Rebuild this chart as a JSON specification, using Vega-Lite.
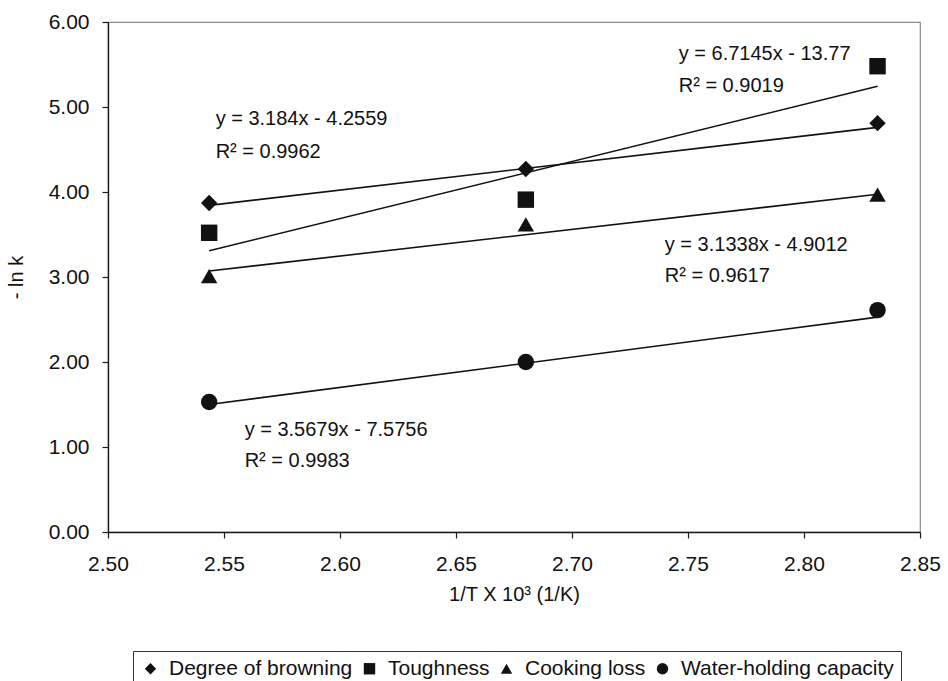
{
  "$schema": "https://vega.github.io/schema/vega-lite/v6.json",
  "width": 812,
  "height": 510,
  "autosize": {"type": "none"},
  "padding": {"left": 108, "top": 22, "right": 28, "bottom": 149},
  "background": "#ffffff",
  "config": {
    "font": "Liberation Sans",
    "view": {"stroke": "#8a8a8a", "strokeWidth": 1.2},
    "axis": {
      "grid": false,
      "domainColor": "#1a1a1a",
      "domainWidth": 1.4,
      "tickColor": "#1a1a1a",
      "tickSize": 6,
      "tickWidth": 1.2,
      "labelColor": "#111111",
      "titleColor": "#111111",
      "labelFontSize": 21,
      "titleFontSize": 20,
      "titleFontWeight": "normal",
      "labelFlush": false,
      "labelOverlap": false
    }
  },
  "datasets": {
    "points": [
      {"series": "Degree of browning", "invT": 2.5436, "negLnK": 3.87},
      {"series": "Degree of browning", "invT": 2.6801, "negLnK": 4.27},
      {"series": "Degree of browning", "invT": 2.8317, "negLnK": 4.81},
      {"series": "Toughness", "invT": 2.5436, "negLnK": 3.52},
      {"series": "Toughness", "invT": 2.6801, "negLnK": 3.91},
      {"series": "Toughness", "invT": 2.8317, "negLnK": 5.48},
      {"series": "Cooking loss", "invT": 2.5436, "negLnK": 3.01},
      {"series": "Cooking loss", "invT": 2.6801, "negLnK": 3.62},
      {"series": "Cooking loss", "invT": 2.8317, "negLnK": 3.97},
      {"series": "Water-holding capacity", "invT": 2.5436, "negLnK": 1.53},
      {"series": "Water-holding capacity", "invT": 2.6801, "negLnK": 2.0},
      {"series": "Water-holding capacity", "invT": 2.8317, "negLnK": 2.61}
    ],
    "fits": [
      {"series": "Degree of browning", "invT": 2.5436, "negLnK": 3.8429},
      {"series": "Degree of browning", "invT": 2.8317, "negLnK": 4.7602},
      {"series": "Toughness", "invT": 2.5436, "negLnK": 3.309},
      {"series": "Toughness", "invT": 2.8317, "negLnK": 5.2435},
      {"series": "Cooking loss", "invT": 2.5436, "negLnK": 3.0699},
      {"series": "Cooking loss", "invT": 2.8317, "negLnK": 3.9728},
      {"series": "Water-holding capacity", "invT": 2.5436, "negLnK": 1.4997},
      {"series": "Water-holding capacity", "invT": 2.8317, "negLnK": 2.5276}
    ],
    "equations": [
      {"text": "y = 3.184x - 4.2559", "invT": 2.5464, "negLnK": 4.86},
      {"text": "R² = 0.9962", "invT": 2.5464, "negLnK": 4.47},
      {"text": "y = 6.7145x - 13.77", "invT": 2.746, "negLnK": 5.62},
      {"text": "R² = 0.9019", "invT": 2.746, "negLnK": 5.25},
      {"text": "y = 3.1338x - 4.9012", "invT": 2.74, "negLnK": 3.38},
      {"text": "R² = 0.9617", "invT": 2.74, "negLnK": 3.01},
      {"text": "y = 3.5679x - 7.5756", "invT": 2.5589, "negLnK": 1.2},
      {"text": "R² = 0.9983", "invT": 2.5589, "negLnK": 0.83}
    ]
  },
  "encoding": {
    "x": {
      "field": "invT",
      "type": "quantitative",
      "scale": {"domain": [2.5, 2.85], "nice": false, "zero": false},
      "axis": {
        "title": "1/T X 10³ (1/K)",
        "values": [2.5, 2.55, 2.6, 2.65, 2.7, 2.75, 2.8, 2.85],
        "format": ".2f",
        "labelPadding": 15,
        "titlePadding": 10
      }
    },
    "y": {
      "field": "negLnK",
      "type": "quantitative",
      "scale": {"domain": [0, 6], "nice": false},
      "axis": {
        "title": "- ln k",
        "values": [0, 1, 2, 3, 4, 5, 6],
        "format": ".2f",
        "labelPadding": 13,
        "titlePadding": 22
      }
    }
  },
  "layer": [
    {
      "data": {"name": "fits"},
      "mark": {"type": "line", "color": "#111111", "strokeWidth": 1.6},
      "encoding": {"detail": {"field": "series"}}
    },
    {
      "data": {"name": "points"},
      "mark": {"type": "point", "filled": true, "size": 270, "opacity": 1, "color": "#111111"},
      "encoding": {
        "shape": {
          "field": "series",
          "type": "nominal",
          "scale": {
            "domain": ["Degree of browning", "Toughness", "Cooking loss", "Water-holding capacity"],
            "range": ["diamond", "square", "triangle-up", "circle"]
          },
          "legend": {
            "title": null,
            "orient": "none",
            "legendX": 25,
            "legendY": 629,
            "direction": "horizontal",
            "columns": 4,
            "strokeColor": "#333333",
            "padding": 7,
            "symbolSize": 130,
            "symbolFillColor": "#111111",
            "symbolStrokeColor": "#111111",
            "labelFontSize": 21,
            "labelColor": "#111111",
            "labelLimit": 400,
            "labelOffset": 8,
            "columnPadding": 6
          }
        }
      }
    },
    {
      "data": {"name": "equations"},
      "mark": {"type": "text", "align": "left", "baseline": "middle", "fontSize": 20, "color": "#111111"},
      "encoding": {"text": {"field": "text"}}
    }
  ]
}
